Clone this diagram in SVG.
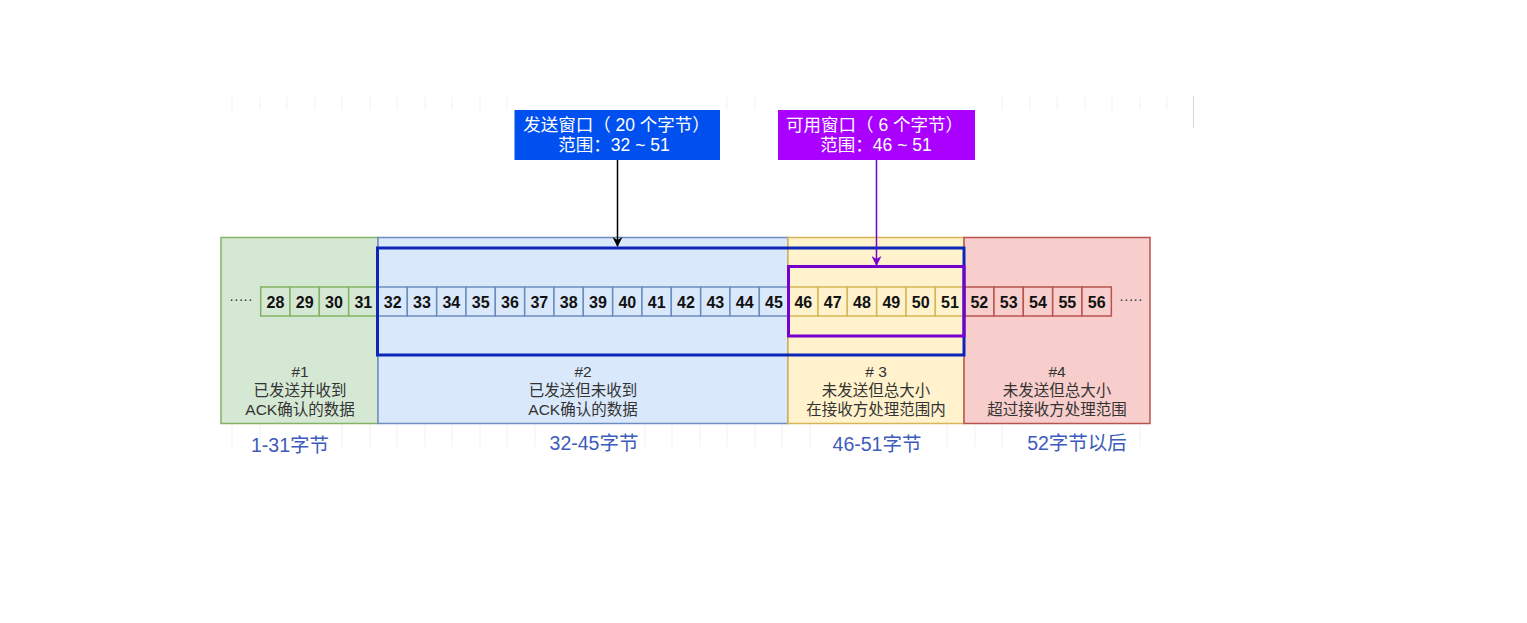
<svg xmlns="http://www.w3.org/2000/svg" width="1527" height="623" viewBox="0 0 1527 623">
<style>
text{font-family:"Liberation Sans","Noto Sans CJK SC",sans-serif}
.g{fill:#d5e8d4;stroke:#82b366;stroke-width:1.5}
.b{fill:#dae8fc;stroke:#6c8ebf;stroke-width:1.5}
.y{fill:#fff2cc;stroke:#d6b656;stroke-width:1.5}
.r{fill:#f8cecc;stroke:#b85450;stroke-width:1.5}
.n{font-size:16px;font-weight:bold;fill:#111;text-anchor:middle}
.lbl{font-size:15.5px;fill:#333;text-anchor:middle}
.bt{font-size:19.5px;fill:#3d5bbd;text-anchor:middle}
.wt{font-size:17.5px;fill:#fff;text-anchor:middle}
.dots{font-size:14px;fill:#333;text-anchor:middle}
.grid line{stroke:#f1f1f1;stroke-width:1}
</style>
<defs>
<marker id="ak" markerWidth="10" markerHeight="10" refX="9" refY="5" orient="auto" markerUnits="userSpaceOnUse"><path d="M0,0 L10,5 L0,10 L3,5 z" fill="#000"/></marker>
<marker id="ap" markerWidth="10" markerHeight="10" refX="9" refY="5" orient="auto" markerUnits="userSpaceOnUse"><path d="M0,0 L10,5 L0,10 L3,5 z" fill="#7700cc"/></marker>
</defs>
<rect width="1527" height="623" fill="#fff"/>
<g class="grid">
<line x1="232" y1="97" x2="232" y2="110"/><line x1="260" y1="97" x2="260" y2="110"/><line x1="287" y1="97" x2="287" y2="110"/><line x1="315" y1="97" x2="315" y2="110"/><line x1="342" y1="97" x2="342" y2="110"/><line x1="370" y1="97" x2="370" y2="110"/><line x1="397" y1="97" x2="397" y2="110"/><line x1="425" y1="97" x2="425" y2="110"/><line x1="452" y1="97" x2="452" y2="110"/><line x1="480" y1="97" x2="480" y2="110"/><line x1="507" y1="97" x2="507" y2="110"/><line x1="727" y1="97" x2="727" y2="110"/><line x1="755" y1="97" x2="755" y2="110"/><line x1="1002" y1="97" x2="1002" y2="110"/><line x1="1030" y1="97" x2="1030" y2="110"/><line x1="1057" y1="97" x2="1057" y2="110"/><line x1="1085" y1="97" x2="1085" y2="110"/><line x1="1112" y1="97" x2="1112" y2="110"/><line x1="1140" y1="97" x2="1140" y2="110"/><line x1="1167" y1="97" x2="1167" y2="110"/>
<line x1="232" y1="425" x2="232" y2="447"/><line x1="260" y1="425" x2="260" y2="447"/><line x1="342" y1="425" x2="342" y2="447"/><line x1="370" y1="425" x2="370" y2="447"/><line x1="397" y1="425" x2="397" y2="447"/><line x1="425" y1="425" x2="425" y2="447"/><line x1="452" y1="425" x2="452" y2="447"/><line x1="480" y1="425" x2="480" y2="447"/><line x1="507" y1="425" x2="507" y2="447"/><line x1="535" y1="425" x2="535" y2="447"/><line x1="645" y1="425" x2="645" y2="447"/><line x1="672" y1="425" x2="672" y2="447"/><line x1="700" y1="425" x2="700" y2="447"/><line x1="727" y1="425" x2="727" y2="447"/><line x1="755" y1="425" x2="755" y2="447"/><line x1="782" y1="425" x2="782" y2="447"/><line x1="810" y1="425" x2="810" y2="447"/><line x1="947" y1="425" x2="947" y2="447"/><line x1="975" y1="425" x2="975" y2="447"/><line x1="1002" y1="425" x2="1002" y2="447"/><line x1="1140" y1="425" x2="1140" y2="447"/>
</g>
<line x1="1193.5" y1="96" x2="1193.5" y2="128" stroke="#d8d8d8" stroke-width="1"/>
<g id="region1"><rect class="g" x="221" y="237.5" width="157" height="186"/>
<text class="lbl" x="300" y="377">#1</text><text class="lbl" x="300" y="396">已发送并收到</text><text class="lbl" x="300" y="415">ACK确认的数据</text></g>
<g id="region2"><rect class="b" x="378" y="237.5" width="410" height="186"/>
<text class="lbl" x="583" y="377">#2</text><text class="lbl" x="583" y="396">已发送但未收到</text><text class="lbl" x="583" y="415">ACK确认的数据</text></g>
<g id="region3"><rect class="y" x="788" y="237.5" width="176" height="186"/>
<text class="lbl" x="876" y="377"># 3</text><text class="lbl" x="876" y="396">未发送但总大小</text><text class="lbl" x="876" y="415">在接收方处理范围内</text></g>
<g id="region4"><rect class="r" x="964" y="237.5" width="186" height="186"/>
<text class="lbl" x="1057" y="377">#4</text><text class="lbl" x="1057" y="396">未发送但总大小</text><text class="lbl" x="1057" y="415">超过接收方处理范围</text></g>
<g id="cells">
<text class="dots" x="241" y="304">·····</text>
<text class="dots" x="1131" y="304">·····</text>
<rect class="g" x="260.7" y="287" width="29.33" height="29"/><text class="n" x="275.4" y="307.5">28</text>
<rect class="g" x="290.0" y="287" width="29.33" height="29"/><text class="n" x="304.7" y="307.5">29</text>
<rect class="g" x="319.3" y="287" width="29.33" height="29"/><text class="n" x="334.0" y="307.5">30</text>
<rect class="g" x="348.7" y="287" width="29.33" height="29"/><text class="n" x="363.3" y="307.5">31</text>
<rect class="b" x="378.0" y="287" width="29.33" height="29"/><text class="n" x="392.7" y="307.5">32</text>
<rect class="b" x="407.3" y="287" width="29.33" height="29"/><text class="n" x="422.0" y="307.5">33</text>
<rect class="b" x="436.7" y="287" width="29.33" height="29"/><text class="n" x="451.3" y="307.5">34</text>
<rect class="b" x="466.0" y="287" width="29.33" height="29"/><text class="n" x="480.7" y="307.5">35</text>
<rect class="b" x="495.3" y="287" width="29.33" height="29"/><text class="n" x="510.0" y="307.5">36</text>
<rect class="b" x="524.7" y="287" width="29.33" height="29"/><text class="n" x="539.3" y="307.5">37</text>
<rect class="b" x="554.0" y="287" width="29.33" height="29"/><text class="n" x="568.7" y="307.5">38</text>
<rect class="b" x="583.3" y="287" width="29.33" height="29"/><text class="n" x="598.0" y="307.5">39</text>
<rect class="b" x="612.7" y="287" width="29.33" height="29"/><text class="n" x="627.3" y="307.5">40</text>
<rect class="b" x="642.0" y="287" width="29.33" height="29"/><text class="n" x="656.7" y="307.5">41</text>
<rect class="b" x="671.3" y="287" width="29.33" height="29"/><text class="n" x="686.0" y="307.5">42</text>
<rect class="b" x="700.7" y="287" width="29.33" height="29"/><text class="n" x="715.3" y="307.5">43</text>
<rect class="b" x="730.0" y="287" width="29.33" height="29"/><text class="n" x="744.7" y="307.5">44</text>
<rect class="b" x="759.3" y="287" width="29.33" height="29"/><text class="n" x="774.0" y="307.5">45</text>
<rect class="y" x="788.7" y="287" width="29.33" height="29"/><text class="n" x="803.3" y="307.5">46</text>
<rect class="y" x="818.0" y="287" width="29.33" height="29"/><text class="n" x="832.7" y="307.5">47</text>
<rect class="y" x="847.3" y="287" width="29.33" height="29"/><text class="n" x="862.0" y="307.5">48</text>
<rect class="y" x="876.7" y="287" width="29.33" height="29"/><text class="n" x="891.3" y="307.5">49</text>
<rect class="y" x="906.0" y="287" width="29.33" height="29"/><text class="n" x="920.7" y="307.5">50</text>
<rect class="y" x="935.3" y="287" width="29.33" height="29"/><text class="n" x="950.0" y="307.5">51</text>
<rect class="r" x="964.7" y="287" width="29.33" height="29"/><text class="n" x="979.3" y="307.5">52</text>
<rect class="r" x="994.0" y="287" width="29.33" height="29"/><text class="n" x="1008.7" y="307.5">53</text>
<rect class="r" x="1023.3" y="287" width="29.33" height="29"/><text class="n" x="1038.0" y="307.5">54</text>
<rect class="r" x="1052.7" y="287" width="29.33" height="29"/><text class="n" x="1067.3" y="307.5">55</text>
<rect class="r" x="1082.0" y="287" width="29.33" height="29"/><text class="n" x="1096.7" y="307.5">56</text>
</g>
<g id="sendWindowFrame"><rect x="377.5" y="248" width="586.5" height="107" fill="none" stroke="#0b26b8" stroke-width="3"/></g>
<g id="usableWindowFrame"><rect x="788.5" y="266.5" width="175.5" height="69.5" fill="none" stroke="#7700cc" stroke-width="3"/></g>
<g id="sendWindowLabel"><rect x="514.5" y="110" width="205.5" height="50" fill="#0050ef"/>
<text class="wt" x="616.5" y="131">发送窗口（ 20 个字节）</text><text class="wt" x="614" y="151">范围：32 ~ 51</text></g>
<g id="usableWindowLabel"><rect x="778" y="110" width="197" height="50" fill="#aa00ff"/>
<text class="wt" x="874.5" y="131">可用窗口（ 6 个字节）</text><text class="wt" x="876" y="151">范围：46 ~ 51</text></g>
<g id="connectors">
<line x1="617.5" y1="160" x2="617.5" y2="246" stroke="#000" stroke-width="1.5" marker-end="url(#ak)"/>
<line x1="876.5" y1="160" x2="876.5" y2="265" stroke="#7700cc" stroke-width="1.5" marker-end="url(#ap)"/>
</g>
<g id="bottomLabels">
<text class="bt" x="290" y="452">1-31字节</text>
<text class="bt" x="594" y="450">32-45字节</text>
<text class="bt" x="877" y="451">46-51字节</text>
<text class="bt" x="1077" y="450">52字节以后</text>
</g>
</svg>
